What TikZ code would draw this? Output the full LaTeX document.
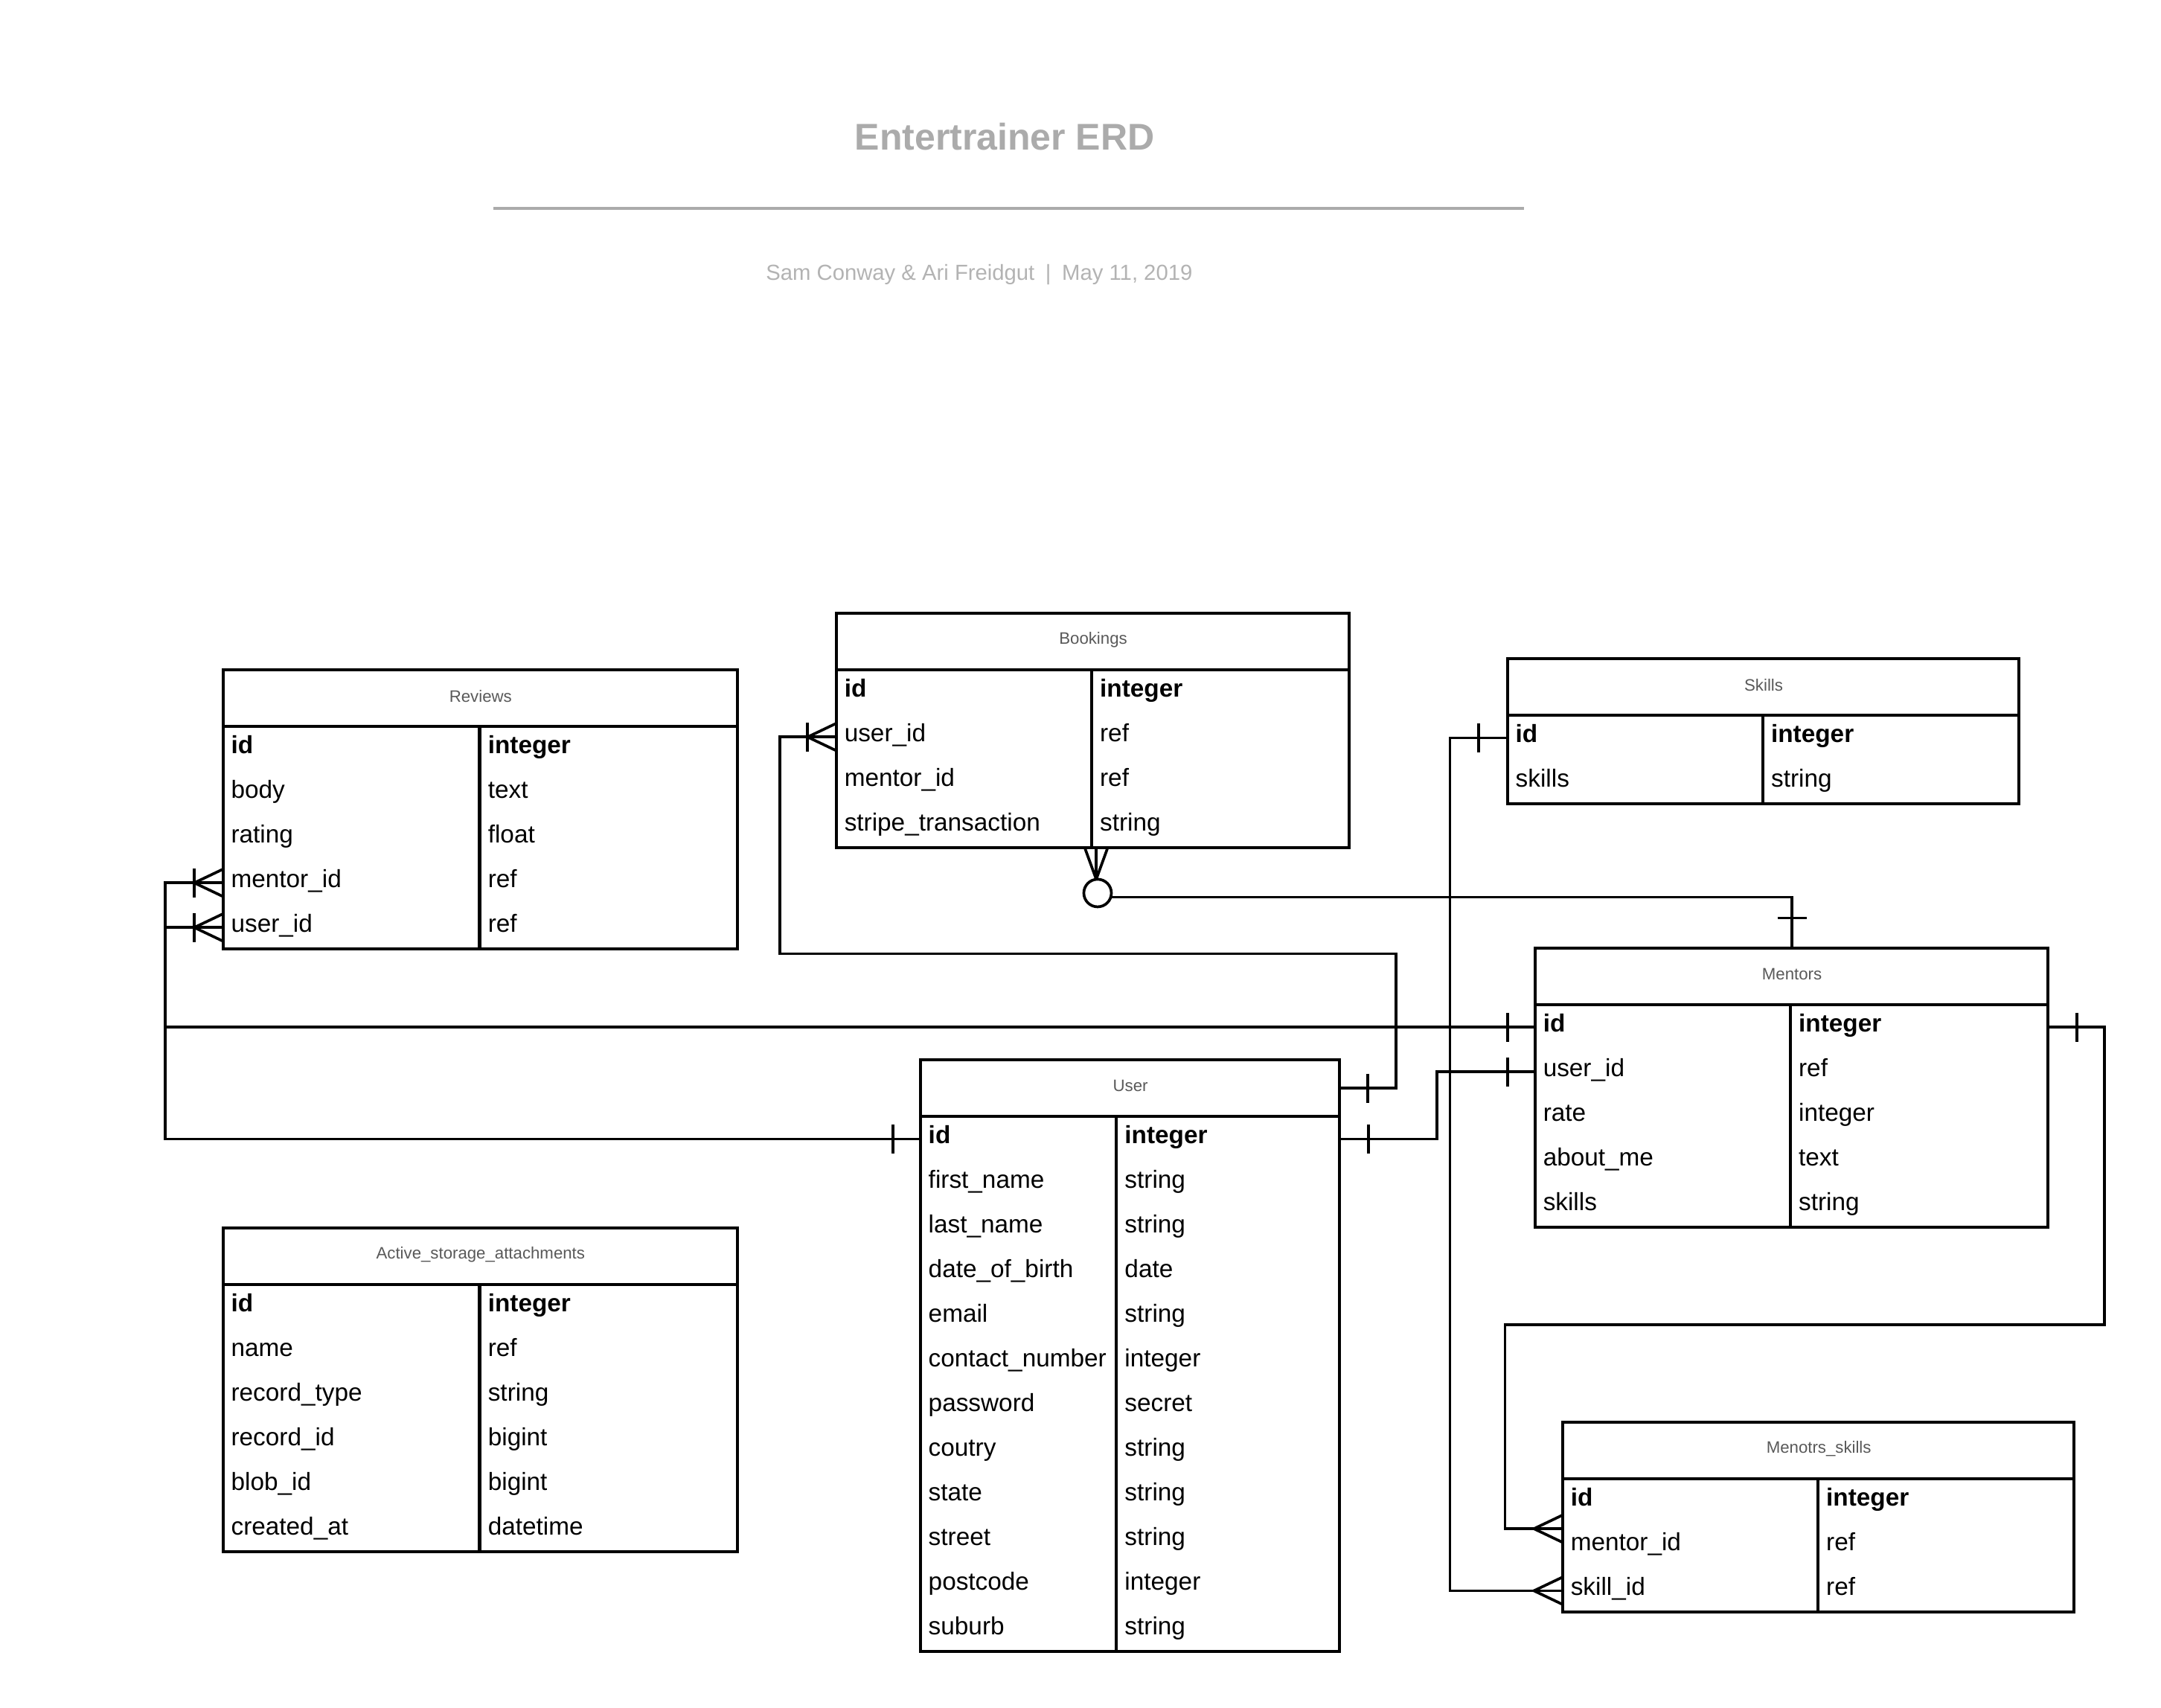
\documentclass[tikz,border=0pt]{standalone}
\usepackage{fontspec}
\setmainfont{Liberation Sans}
\usetikzlibrary{calc}
\definecolor{titlegray}{HTML}{ABABAB}
\definecolor{subgray}{HTML}{B3B3B3}
\definecolor{hdrgray}{HTML}{595959}

\tikzset{
  tabline/.style={line width=2.2pt, draw=black},
  conn/.style={line width=2pt, draw=black, line join=miter},
  hdrcell/.style={minimum height=40.5pt, inner sep=0pt},
  hdrtxt/.style={inner sep=0pt, font=\fontsize{12}{14}\selectfont, text=hdrgray},
  cellbox/.style={minimum height=32.4pt, inner sep=0pt},
  fldtxt/.style={inner xsep=0pt, inner ysep=0pt, font=\fontsize{18}{21}\selectfont, text height=13pt, text depth=4pt},
}

% #1 name, #2 x, #3 y (downwards), #4 width, #5 key column width, #6 rows, #7 title, #8 rows
\newcommand{\erdtab}[8]{%
  \node[hdrcell, minimum width=#4pt, anchor=north west, fill=white] (#1) at (#2,-#3) {};
  \node[hdrtxt] (#1-title) at ($(#1.center)+(0,1.5)$) {#7};
  \foreach \f/\t [count=\i] in {#8} {
    \node[cellbox, minimum width=#5pt, anchor=north west] (#1-\i) at ($(#1.south west)+(0,{-(\i-1)*32.4})$) {};
    \node[cellbox, minimum width={#4pt-#5pt}, anchor=north west] (#1-\i t) at (#1-\i.north east) {};
    \node[fldtxt, anchor=west] at ($(#1-\i.west)+(5.5,1)$) {\f};
    \node[fldtxt, anchor=west] at ($(#1-\i t.west)+(5.5,1)$) {\t};
  }
  \draw[tabline] (#1.north west) rectangle ++(#4,{-40.5-#6*32.4});
  \draw[tabline] (#1.south west) -- ++(#4,0);
  \draw[tabline] ($(#1.south west)+(#5,0)$) -- ++(0,{-#6*32.4});
}
\newcommand{\crowW}[1]{\draw[conn] ($(#1)+(0,10)$) -- ($(#1)+(-21,0)$) -- ($(#1)+(0,-10)$);}
\newcommand{\barH}[2]{\draw[conn] ($(#1)+(#2,10.5)$) -- ($(#1)+(#2,-10.5)$);}

\begin{document}
\begin{tikzpicture}[x=1pt,y=1pt]
\useasboundingbox[fill=white] (0,0) rectangle (1568,-1239);

% title block
\node[font=\fontsize{27}{32}\selectfont\bfseries, text=titlegray] (title) at (729,-99) {Entertrainer ERD};
\coordinate (hl) at (358,-151);
\coordinate (hr) at (1106,-151);
\draw[line width=2pt, draw=titlegray] (hl) -- (hr);
\node[font=\fontsize{15.8}{19}\selectfont, text=subgray] (sub) at (710.5,-199) {Sam Conway \& Ari Freidgut\hspace{0.5em}|\hspace{0.5em}May 11, 2019};

% tables
\erdtab{rev}{162}{486}{373}{186}{5}{Reviews}{{\textbf{id}}/{\textbf{integer}}, body/text, rating/float, {mentor\_id}/ref, {user\_id}/ref}
\erdtab{bk}{607}{445}{372}{185}{4}{Bookings}{{\textbf{id}}/{\textbf{integer}}, {user\_id}/ref, {mentor\_id}/ref, {stripe\_transaction}/string}
\erdtab{sk}{1094}{478}{371}{185}{2}{Skills}{{\textbf{id}}/{\textbf{integer}}, skills/string}
\erdtab{men}{1114}{688}{372}{185}{5}{Mentors}{{\textbf{id}}/{\textbf{integer}}, {user\_id}/ref, rate/integer, {about\_me}/text, skills/string}
\erdtab{usr}{668}{769}{304}{142}{12}{User}{{\textbf{id}}/{\textbf{integer}}, {first\_name}/string, {last\_name}/string, {date\_of\_birth}/date, email/string, {contact\_number}/integer, password/secret, coutry/string, state/string, street/string, postcode/integer, suburb/string}
\erdtab{asa}{162}{891}{373}{186}{6}{Active\_storage\_attachments}{{\textbf{id}}/{\textbf{integer}}, name/ref, {record\_type}/string, {record\_id}/bigint, {blob\_id}/bigint, {created\_at}/datetime}
\erdtab{ms}{1134}{1032}{371}{185}{3}{Menotrs\_skills}{{\textbf{id}}/{\textbf{integer}}, {mentor\_id}/ref, {skill\_id}/ref}

% C1 Reviews.mentor_id -> Mentors.id
\draw[conn] (rev-4.west) -- ++(-42,0) |- (men-1.west);
\crowW{rev-4.west} \barH{rev-4.west}{-21}
\barH{men-1.west}{-20}

% C2 Reviews.user_id -> User.id
\draw[conn] (rev-5.west) -- ++(-42,0) |- (usr-1.west);
\crowW{rev-5.west} \barH{rev-5.west}{-21}
\barH{usr-1.west}{-20}

% C3 Bookings.user_id -> User
\coordinate (c3a) at (566,-692);
\coordinate (c3b) at (1013,-692);
\draw[conn] (bk-2.west) -| (c3a) -- (c3b) |- (usr.east);
\crowW{bk-2.west} \barH{bk-2.west}{-21}
\barH{usr.east}{20}

% C4 Bookings.mentor_id -> Mentors
\coordinate (bkb) at ($(bk-4.south east)+(3,0)$);
\draw[conn] (bkb) -- ++(0,-22);
\draw[conn] ($(bkb)+(-8,0)$) -- ($(bkb)+(0,-22)$) -- ($(bkb)+(8,0)$);
\draw[conn] ($(bkb)+(10,-35)$) -| (men.north);
\draw[conn, fill=white] ($(bkb)+(1,-32)$) circle (10);
\draw[conn] ($(men.north)+(-10.5,22)$) -- ++(21,0);

% C5 Skills.id -> Menotrs_skills.skill_id
\draw[conn] (sk-1.west) -- ++(-42,0) |- (ms-3.west);
\barH{sk-1.west}{-21}
\crowW{ms-3.west}

% C6 Mentors.id -> Menotrs_skills.mentor_id
\coordinate (c6a) at (1527,-961);
\coordinate (c6b) at (1092,-961);
\coordinate (msm) at ($(ms-2.west)+(0,12.6)$);
\draw[conn] (men-1t.east) -| (c6a) -- (c6b) |- (msm);
\barH{men-1t.east}{20}
\crowW{msm}

% C7 User.id -> Mentors.user_id
\draw[conn] (usr-1t.east) -- ++(70,0) |- (men-2.west);
\barH{usr-1t.east}{20}
\barH{men-2.west}{-20}
\end{tikzpicture}
\end{document}
